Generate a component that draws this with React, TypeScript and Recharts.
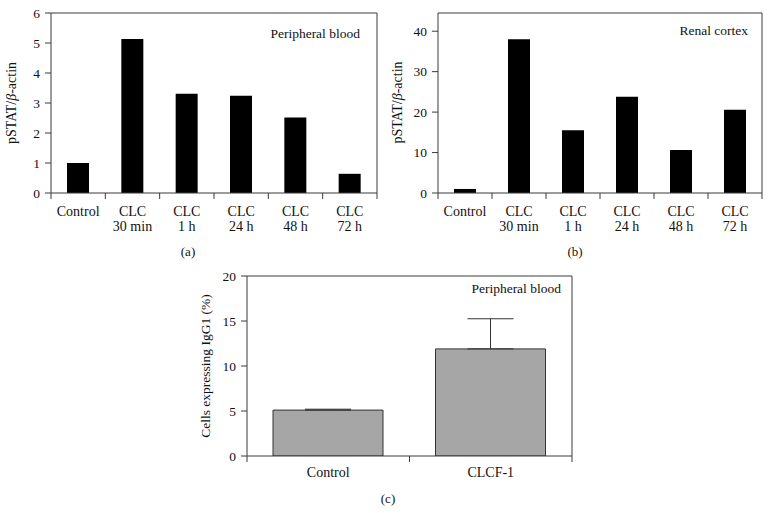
import React from 'react';
import { BarChart, Bar, XAxis, YAxis, ErrorBar } from 'recharts';

const CATEGORIES = ['Control', 'CLC\n30 min', 'CLC\n1 h', 'CLC\n24 h', 'CLC\n48 h', 'CLC\n72 h'];
const BLOOD_VALUES = [1.0, 5.13, 3.31, 3.24, 2.52, 0.64];
const BLOOD_TICKS = [0, 1, 2, 3, 4, 5, 6];
const CORTEX_VALUES = [1.0, 38.0, 15.5, 23.8, 10.6, 20.6];
const CORTEX_TICKS = [0, 10, 20, 30, 40];

const IGG_GROUPS = ['Control', 'CLCF-1'];
const IGG_MEANS = [5.1, 11.9];
const IGG_ERRORS = [0.1, 3.35];
const IGG_TICKS = [0, 5, 10, 15, 20];

const FONT = '"Liberation Serif", "DejaVu Serif", serif';
const AXIS = '#3a3a3a';
const TEXT = '#111';
const Y_AXIS_W = 30;

// category label + tick marks on the category boundaries
const CategoryTick = (props: any) => {
  const { x, y, payload, index, first, band, count } = props;
  const lines = String(payload.value).split('\n');
  const half = band / 2;
  return (
    <g>
      <line x1={x - half} x2={x - half} y1={y} y2={y + 6} stroke={AXIS} />
      {index === count - 1 && <line x1={x + half} x2={x + half} y1={y} y2={y + 6} stroke={AXIS} />}
      <text x={x} y={y} textAnchor="middle" fontFamily={FONT} fontSize={14} fill={TEXT}>
        {lines.map((line, i) => (
          <tspan key={i} x={x} dy={i === 0 ? first : 15}>
            {line}
          </tspan>
        ))}
      </text>
    </g>
  );
};

const yTickStyle = { fontFamily: FONT, fontSize: 13.5, fill: TEXT };

interface PanelProps {
  categories: string[];
  values: number[];
  errors?: number[];
  ticks: number[];
  max: number;
  width: number;
  height: number;
  margin: { top: number; right: number; bottom: number; left: number };
  barSize: number;
  fill: string;
  stroke?: string;
  labelOffset: number;
}

function Panel(p: PanelProps) {
  const data = p.categories.map((c, i) => ({
    category: c,
    value: p.values[i],
    err: p.errors ? [0, p.errors[i]] : undefined,
  }));
  const band = (p.width - p.margin.left - p.margin.right - Y_AXIS_W - 1) / p.categories.length;
  return (
    <BarChart width={p.width} height={p.height} data={data} margin={p.margin}>
      <XAxis
        dataKey="category"
        interval={0}
        tickLine={false}
        tickSize={0}
        tickMargin={0}
        height={41}
        stroke={AXIS}
        tick={<CategoryTick first={p.labelOffset} band={band} count={p.categories.length} />}
      />
      <XAxis xAxisId="top" orientation="top" dataKey="category" tick={false} tickLine={false} height={1} stroke={AXIS} />
      <YAxis
        domain={[0, p.max]}
        ticks={p.ticks}
        allowDataOverflow
        width={Y_AXIS_W}
        tickSize={6}
        tickMargin={5}
        stroke={AXIS}
        tick={yTickStyle}
      />
      <YAxis
        yAxisId="right"
        orientation="right"
        domain={[0, p.max]}
        allowDataOverflow
        tick={false}
        tickLine={false}
        width={1}
        stroke={AXIS}
      />
      <Bar dataKey="value" fill={p.fill} stroke={p.stroke} barSize={p.barSize} isAnimationActive={false}>
        {p.errors && (
          <ErrorBar dataKey="err" direction="y" width={23} stroke="#333" strokeWidth={1} isAnimationActive={false} />
        )}
      </Bar>
    </BarChart>
  );
}

export default function App() {
  return (
    <div style={{ position: 'absolute', left: 0, top: 0, width: 771, height: 513, background: '#fff' }}>
      <div style={{ position: 'absolute', left: 0, top: 0 }}>
        <Panel
          categories={CATEGORIES}
          values={BLOOD_VALUES}
          ticks={BLOOD_TICKS}
          max={6}
          width={390}
          height={240}
          margin={{ top: 12, right: 12, bottom: 6, left: 21 }}
          barSize={22}
          fill="#000"
          labelOffset={23}
        />
      </div>
      <div style={{ position: 'absolute', left: 390, top: 0 }}>
        <Panel
          categories={CATEGORIES}
          values={CORTEX_VALUES}
          ticks={CORTEX_TICKS}
          max={44.5}
          width={381}
          height={240}
          margin={{ top: 12, right: 8, bottom: 6, left: 18 }}
          barSize={22}
          fill="#000"
          labelOffset={23}
        />
      </div>
      <div style={{ position: 'absolute', left: 180, top: 230 }}>
        <Panel
          categories={IGG_GROUPS}
          values={IGG_MEANS}
          errors={IGG_ERRORS}
          ticks={IGG_TICKS}
          max={20}
          width={400}
          height={283}
          margin={{ top: 45, right: 7, bottom: 16, left: 37 }}
          barSize={110}
          fill="#a6a6a6"
          stroke="#333"
          labelOffset={21}
        />
      </div>
      <svg
        width={771}
        height={513}
        style={{ position: 'absolute', left: 0, top: 0, pointerEvents: 'none' }}
        fontFamily={FONT}
        fill={TEXT}
      >
        <text x={360} y={38} textAnchor="end" fontSize={13.5}>Peripheral blood</text>
        <text x={748} y={35} textAnchor="end" fontSize={13.5}>Renal cortex</text>
        <text x={561} y={293} textAnchor="end" fontSize={13.5}>Peripheral blood</text>
        <text x={188} y={256} textAnchor="middle" fontSize={13}>(a)</text>
        <text x={575} y={256} textAnchor="middle" fontSize={13}>(b)</text>
        <text x={388} y={503} textAnchor="middle" fontSize={13}>(c)</text>
        <text x={16} y={103} textAnchor="middle" fontSize={14} transform="rotate(-90 16 103)">
          pSTAT/<tspan fontStyle="italic">β</tspan>-actin
        </text>
        <text x={402} y={102.5} textAnchor="middle" fontSize={14} transform="rotate(-90 402 102.5)">
          pSTAT/<tspan fontStyle="italic">β</tspan>-actin
        </text>
        <text x={210} y={366} textAnchor="middle" fontSize={13.5} transform="rotate(-90 210 366)">
          Cells expressing IgG1 (%)
        </text>
      </svg>
    </div>
  );
}
